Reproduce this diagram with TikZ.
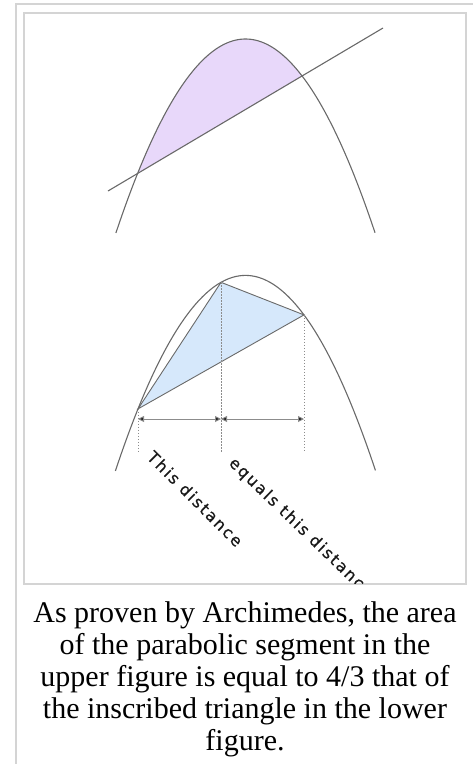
\documentclass[tikz,border=0pt]{standalone}
\usepackage{fontspec}
\setmainfont{Liberation Serif}
\newfontfamily\labelfont[LetterSpace=12,FakeBold=0.6]{DejaVu Sans}
\usetikzlibrary{arrows.meta}
\definecolor{curve}{RGB}{105,105,105}
\definecolor{segfill}{RGB}{232,216,250}
\definecolor{trifill}{RGB}{214,232,251}
\definecolor{framegray}{RGB}{212,212,212}
\definecolor{dotgray}{RGB}{140,140,140}
\begin{document}
\begin{tikzpicture}[x=1pt,y=-1pt,
  curveline/.style={draw=curve,line width=1.1pt},
  thinline/.style={draw=curve,line width=0.9pt},
  dotline/.style={draw=dotgray,line width=1pt,dash pattern=on 1.3pt off 1.7pt},
  dimarrow/.style={draw=dotgray,line width=0.9pt,{Triangle[length=6pt,width=6pt,fill=black!85]}-{Triangle[length=6pt,width=6pt,fill=black!85]}},
  lbl/.style={font=\labelfont\fontsize{16}{18}\selectfont,text=black!90,inner sep=0pt},
  captxt/.style={font=\fontsize{30}{32}\selectfont,align=center,inner sep=0pt,text=black}]
\useasboundingbox (0,0) rectangle (473,764);
% frames
\draw[framegray,line width=2.5pt] (16,770) -- (16,4) -- (480,4);
\draw[framegray,line width=2pt] (24,13) rectangle (465.5,584);
% upper figure
\coordinate (P1) at (137.6,173.45);
\coordinate (P2) at (302.1,75.96);
\coordinate (L1) at (108,191);
\coordinate (L2) at (383,28);
\fill[segfill] plot[domain=-1.079:0.566,samples=80] ({245.5+100*\x},{39+115.5*\x*\x}) -- cycle;
\draw[curveline] plot[domain=-1.296:1.296,samples=120] ({245.5+100*\x},{39+115.5*\x*\x});
\draw[curveline] (L1) -- (L2);
% lower figure
\coordinate (A) at (138,408.9);
\coordinate (B) at (221,282.3);
\coordinate (C) at (304,314.9);
\fill[trifill] (A) -- (B) -- (C) -- cycle;
\draw[thinline] (A) -- (B) -- (C) -- cycle;
\draw[curveline] plot[domain=-1.301:1.301,samples=120] ({245.5+100*\x},{275.4+115.5*\x*\x});
\coordinate (Ad) at (138,452);
\coordinate (Bd) at (221,452);
\coordinate (Cd) at (304,452);
\draw[dotline] (A) -- (Ad);
\draw[dotline] (B) -- (Bd);
\draw[dotline] (C) -- (Cd);
\coordinate (a1) at (138,419);
\coordinate (b1) at (221,419);
\coordinate (c1) at (304,419);
\draw[dimarrow] (a1) -- (b1);
\draw[dimarrow] (b1) -- (c1);
\node[lbl,rotate=-45,anchor=base west] (t1) at (146,458) {This distance};
\begin{scope}
\clip (25,14) rectangle (464.5,583);
\node[lbl,rotate=-44,anchor=base west] (t2) at (228,464) {equals this distance};
\end{scope}
% caption
\node[captxt,anchor=north] (cap) at (245,601.2) {As proven by Archimedes, the area\\of the parabolic segment in the\\upper figure is equal to 4/3 that of\\the inscribed triangle in the lower\\figure.};
\end{tikzpicture}
\end{document}
